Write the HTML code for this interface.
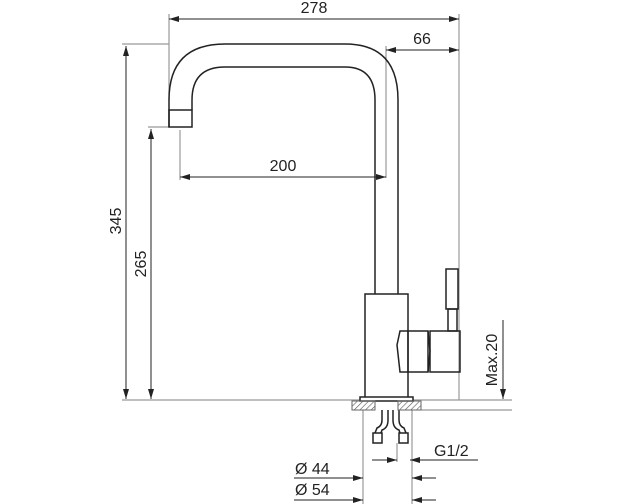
<!DOCTYPE html>
<html><head><style>
html,body{margin:0;padding:0;background:#fff;}
svg{display:block;}
text{font-family:"Liberation Sans",sans-serif;font-size:16px;fill:#222;}
</style></head><body>
<svg width="617" height="504" viewBox="0 0 617 504" xmlns="http://www.w3.org/2000/svg">
<defs>
<marker id="a" viewBox="0 0 10 6" refX="10" refY="3" markerWidth="10" markerHeight="6" orient="auto-start-reverse" markerUnits="userSpaceOnUse"><path d="M0,0 L10,3 L0,6 z" fill="#222"/></marker>
<pattern id="h" width="4" height="4" patternUnits="userSpaceOnUse" patternTransform="rotate(45)"><line x1="0" y1="0" x2="0" y2="4" stroke="#555" stroke-width="1.2"/></pattern>
</defs>
<g stroke="#999" stroke-width="1.2" fill="none">
<line x1="169" y1="14" x2="169" y2="100"/>
<line x1="459" y1="14" x2="459" y2="400"/>
<line x1="386" y1="46" x2="386" y2="178"/>
<line x1="122" y1="44" x2="169" y2="44"/>
<line x1="148" y1="127" x2="169" y2="127"/>
<line x1="180" y1="130" x2="180" y2="180"/>
<line x1="122" y1="400" x2="360" y2="400"/>
<line x1="413" y1="400" x2="512" y2="400"/>
<line x1="421" y1="410" x2="512" y2="410"/>
<line x1="363" y1="410" x2="363" y2="504"/>
<line x1="412" y1="410" x2="412" y2="504"/>
<line x1="397" y1="443" x2="397" y2="462"/>
<line x1="386" y1="296" x2="386" y2="400"/>
</g>
<g stroke="#222" stroke-width="1" fill="none">
<line x1="169" y1="19" x2="459" y2="19" marker-start="url(#a)" marker-end="url(#a)"/>
<line x1="386" y1="50" x2="459" y2="50" marker-start="url(#a)" marker-end="url(#a)"/>
<line x1="180" y1="177" x2="386" y2="177" marker-start="url(#a)" marker-end="url(#a)"/>
<line x1="126" y1="46" x2="126" y2="399" marker-start="url(#a)" marker-end="url(#a)"/>
<line x1="151" y1="129" x2="151" y2="399" marker-start="url(#a)" marker-end="url(#a)"/>
<line x1="503" y1="320" x2="503" y2="399" marker-end="url(#a)"/>
<line x1="372" y1="460" x2="397" y2="460" marker-end="url(#a)"/>
<line x1="410" y1="460" x2="478" y2="460" marker-start="url(#a)"/>
<line x1="294" y1="478" x2="363" y2="478" marker-end="url(#a)"/>
<line x1="412" y1="478" x2="436" y2="478" marker-start="url(#a)"/>
<line x1="294" y1="500" x2="363" y2="500" marker-end="url(#a)"/>
<line x1="412" y1="500" x2="436" y2="500" marker-start="url(#a)"/>
</g>
<g stroke="#222" stroke-width="1.5" fill="none">
<path d="M169,127 L169,100 Q169,44 225,44 L345,44 Q398,44 398,100 L398,294"/>
<path d="M192,110 L192,100 Q192,67 225,67 L345,67 Q375,67 375,100 L375,294"/>
<rect x="169" y="110" width="23" height="17"/>
<rect x="365" y="294" width="43" height="104" fill="#fff"/>
<path d="M408,331 L400,331 L397,345 L400,372 L408,372"/>
<rect x="408" y="331" width="20" height="41"/>
<path d="M428,331 L430,351 L428,372"/>
<rect x="430" y="331" width="30" height="41"/>
<rect x="446" y="269" width="12" height="40"/>
<rect x="448" y="309" width="9" height="22"/>
<rect x="360" y="397" width="53" height="4" fill="#fff"/>
<path d="M382,410 L382,420 Q382,426 377,428 L375,433"/>
<path d="M388,410 L388,420 Q388,428 382,430 L381,433"/>
<path d="M393,410 L393,420 Q393,428 399,430 L400,433"/>
<path d="M399,410 L399,420 Q399,426 404,428 L406,433"/>
<rect x="373" y="433" width="9" height="10"/>
<rect x="399" y="433" width="9" height="10"/>
</g>
<rect x="352" y="401" width="23" height="9" fill="url(#h)" stroke="#666"/>
<rect x="398" y="401" width="23" height="9" fill="url(#h)" stroke="#666"/>
<text x="314" y="13" text-anchor="middle">278</text>
<text x="422" y="44" text-anchor="middle">66</text>
<text x="283" y="171" text-anchor="middle">200</text>
<text transform="translate(121,221) rotate(-90)" text-anchor="middle">345</text>
<text transform="translate(146,264) rotate(-90)" text-anchor="middle">265</text>
<text transform="translate(497,360) rotate(-90)" text-anchor="middle">Max.20</text>
<text x="434" y="456">G1/2</text>
<text x="295" y="474">Ø 44</text>
<text x="295" y="495">Ø 54</text>
</svg>
</body></html>
